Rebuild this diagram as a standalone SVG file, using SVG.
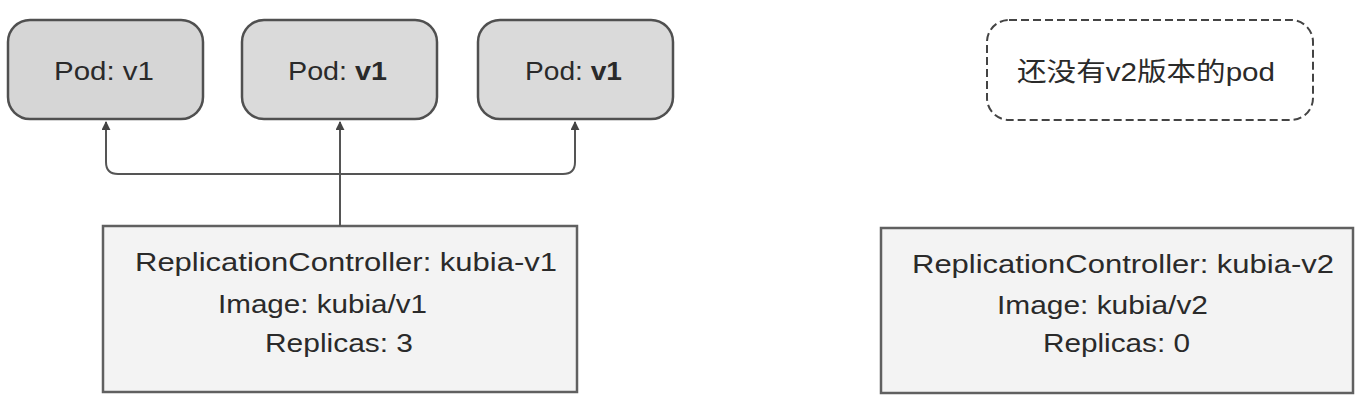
<svg xmlns="http://www.w3.org/2000/svg" width="1372" height="410" viewBox="0 0 1372 410">
<style>
.pod{stroke:#505050;stroke-width:2.5}
.rc{fill:#f3f3f3;stroke:#606060;stroke-width:2.5}
.t{font-family:"Liberation Sans",Arial,sans-serif;font-size:26px;fill:#2a2a2a}
.c{font-family:"Liberation Sans","Noto Sans CJK SC",sans-serif;font-size:26px;fill:#2a2a2a}
.ln{fill:none;stroke:#555;stroke-width:2}
</style>
<defs>
<marker id="ah" viewBox="0 0 10 10" refX="9" refY="5" markerWidth="4.5" markerHeight="4.5" orient="auto-start-reverse">
<path d="M0,0 L10,5 L0,10 z" fill="#444"/>
</marker>
</defs>
<rect width="1372" height="410" fill="#ffffff"/>
<g id="pod1">
<rect class="pod" x="8" y="20" width="195" height="99" rx="22" fill="#d6d6d6"/>
<text class="t" x="54" y="80" textLength="100" lengthAdjust="spacingAndGlyphs">Pod: v1</text>
</g>
<g id="pod2">
<rect class="pod" x="242" y="20" width="195" height="99" rx="22" fill="#dadada"/>
<text class="t" x="288" y="80" textLength="99" lengthAdjust="spacingAndGlyphs">Pod: <tspan font-weight="bold">v1</tspan></text>
</g>
<g id="pod3">
<rect class="pod" x="478" y="20" width="195" height="99" rx="22" fill="#dadada"/>
<text class="t" x="525" y="80" textLength="97" lengthAdjust="spacingAndGlyphs">Pod: <tspan font-weight="bold">v1</tspan></text>
</g>
<g id="nopod">
<rect x="987" y="20" width="326" height="100" rx="22" fill="none" stroke="#444" stroke-width="2" stroke-dasharray="8,4"/>
<text class="c" x="1017" y="81" textLength="258" lengthAdjust="spacingAndGlyphs">还没有v2版本的pod</text>
</g>
<g id="rc1">
<rect class="rc" x="103" y="226" width="474" height="166"/>
<text class="t" x="135" y="271" textLength="422" lengthAdjust="spacingAndGlyphs">ReplicationController: kubia-v1</text>
<text class="t" x="218" y="313" textLength="209" lengthAdjust="spacingAndGlyphs">Image: kubia/v1</text>
<text class="t" x="265" y="352" textLength="148" lengthAdjust="spacingAndGlyphs">Replicas: 3</text>
</g>
<g id="rc2">
<rect class="rc" x="881" y="228" width="472" height="165"/>
<text class="t" x="912" y="273" textLength="422" lengthAdjust="spacingAndGlyphs">ReplicationController: kubia-v2</text>
<text class="t" x="997" y="314" textLength="211" lengthAdjust="spacingAndGlyphs">Image: kubia/v2</text>
<text class="t" x="1043" y="352" textLength="147" lengthAdjust="spacingAndGlyphs">Replicas: 0</text>
</g>
<g id="connectors">
<path class="ln" d="M106,122 L106,162 Q106,174 118,174 L563,174 Q575,174 575,162 L575,122" marker-start="url(#ah)" marker-end="url(#ah)"/>
<path class="ln" d="M340,226 L340,122" marker-end="url(#ah)"/>
</g>
</svg>
